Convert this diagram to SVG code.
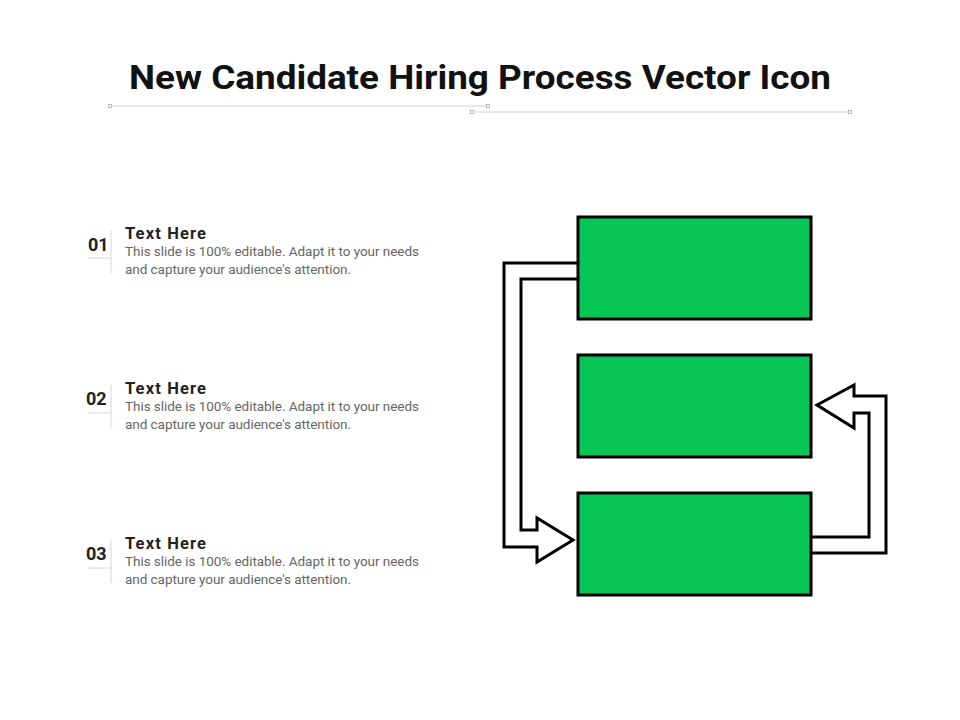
<svg xmlns="http://www.w3.org/2000/svg" width="960" height="720" viewBox="0 0 960 720">
<style>
.title{font-family:Roboto,"Liberation Sans",sans-serif;font-weight:bold;font-size:34px;fill:#111;}
.num{font-family:Roboto,"Liberation Sans",sans-serif;font-weight:bold;font-size:18px;fill:#222;}
.head{font-family:Roboto,"Liberation Sans",sans-serif;font-weight:bold;font-size:16.5px;fill:#222;}
.desc{font-family:Roboto,"Liberation Sans",sans-serif;font-size:13.5px;fill:#666;}
.deco{stroke:#d4d4d4;stroke-width:1;fill:none;}
.sq{fill:#fff;stroke:#aaa;stroke-width:0.8;}
.sep{stroke:#d8d8d8;stroke-width:1;fill:none;}
.box{fill:#07C655;stroke:#000;stroke-width:3;}
.arrow{fill:#fff;stroke:#000;stroke-width:3;stroke-linejoin:miter;}
</style>
<rect width="960" height="720" fill="#fff"/>
<g id="title">
<text class="title" x="480" y="89" text-anchor="middle" textLength="702" lengthAdjust="spacingAndGlyphs">New Candidate Hiring Process Vector Icon</text>
<line class="deco" x1="110" y1="106" x2="488" y2="106"/>
<line class="deco" x1="472" y1="112" x2="850" y2="112"/>
<rect class="sq" x="108.5" y="104.5" width="3" height="3"/>
<rect class="sq" x="486.5" y="104.5" width="3" height="3"/>
<rect class="sq" x="470.5" y="110.5" width="3" height="3"/>
<rect class="sq" x="848.5" y="110.5" width="3" height="3"/>
</g>
<g id="item1">
<text class="num" x="88" y="251">01</text>
<line class="sep" x1="111" y1="230" x2="111" y2="273"/>
<line class="sep" x1="88" y1="258" x2="111" y2="258"/>
<text class="head" x="125" y="239" textLength="81" lengthAdjust="spacing">Text Here</text>
<text class="desc" x="125" y="256" textLength="294">This slide is 100% editable. Adapt it to your needs</text>
<text class="desc" x="125" y="274" textLength="226">and capture your audience's attention.</text>
</g>
<g id="item2">
<text class="num" x="86" y="405">02</text>
<line class="sep" x1="111" y1="385" x2="111" y2="428"/>
<line class="sep" x1="88" y1="413" x2="111" y2="413"/>
<text class="head" x="125" y="394" textLength="81" lengthAdjust="spacing">Text Here</text>
<text class="desc" x="125" y="411" textLength="294">This slide is 100% editable. Adapt it to your needs</text>
<text class="desc" x="125" y="429" textLength="226">and capture your audience's attention.</text>
</g>
<g id="item3">
<text class="num" x="86" y="560">03</text>
<line class="sep" x1="111" y1="540" x2="111" y2="583"/>
<line class="sep" x1="88" y1="568" x2="111" y2="568"/>
<text class="head" x="125" y="549" textLength="81" lengthAdjust="spacing">Text Here</text>
<text class="desc" x="125" y="566" textLength="294">This slide is 100% editable. Adapt it to your needs</text>
<text class="desc" x="125" y="584" textLength="226">and capture your audience's attention.</text>
</g>
<g id="connectors">
<path class="arrow" d="M578,263 H504 V547 H537 V562 L573,540 L537,518 V530 H521 V279 H578"/>
<path class="arrow" d="M811,553 H886 V396 H854 V385 L817,405 L854,428 V413 H869 V537 H811"/>
</g>
<g id="box1"><rect class="box" x="578" y="217" width="233" height="102"/></g>
<g id="box2"><rect class="box" x="578" y="355" width="233" height="102"/></g>
<g id="box3"><rect class="box" x="578" y="493" width="233" height="102"/></g>
</svg>
